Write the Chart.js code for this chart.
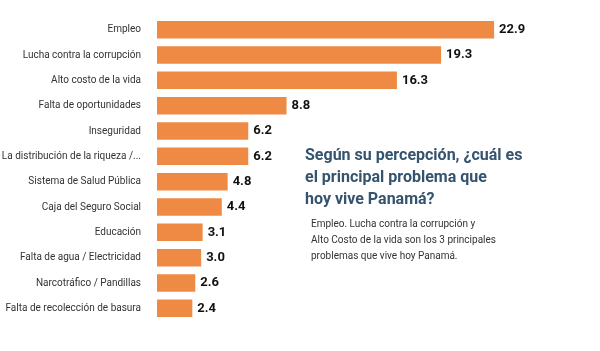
<!DOCTYPE html>
<html>
<head>
<meta charset="utf-8">
<script src="https://cdn.jsdelivr.net/npm/chart.js@4"></script>
<style>
  html, body { margin: 0; padding: 0; background: #fff; }
  #wrap { position: relative; width: 600px; height: 351px; }
  #c { position: absolute; left: 0; top: 0; }
  #title { position: absolute; left: 305px; top: 144px; font-family: Roboto, sans-serif; font-weight: bold; font-size: 16px; line-height: 22px; color: #34536f; }
  #note { position: absolute; left: 311px; top: 216px; font-family: Roboto, sans-serif; font-size: 10px; line-height: 16px; color: #333; }
</style>
</head>
<body>
<div id="wrap">
  <canvas id="c" width="600" height="351"></canvas>
  <div id="title">Según su percepción, ¿cuál es<br>el principal problema que<br>hoy vive Panamá?</div>
  <div id="note">Empleo. Lucha contra la corrupción y<br>Alto Costo de la vida son los 3 principales<br>problemas que vive hoy Panamá.</div>
</div>
<script>
const categories = [
  "Empleo",
  "Lucha contra la corrupción",
  "Alto costo de la vida",
  "Falta de oportunidades",
  "Inseguridad",
  "La distribución de la riqueza /...",
  "Sistema de Salud Pública",
  "Caja del Seguro Social",
  "Educación",
  "Falta de agua / Electricidad",
  "Narcotráfico / Pandillas",
  "Falta de recolección de basura"
];
const values = [22.9, 19.3, 16.3, 8.8, 6.2, 6.2, 4.8, 4.4, 3.1, 3.0, 2.6, 2.4];

const valueLabels = {
  id: 'valueLabels',
  afterDatasetsDraw(chart) {
    const ctx = chart.ctx;
    const meta = chart.getDatasetMeta(0);
    ctx.save();
    ctx.font = 'bold 13px Roboto, sans-serif';
    ctx.fillStyle = '#111';
    ctx.textAlign = 'left';
    ctx.textBaseline = 'middle';
    meta.data.forEach((bar, i) => {
      ctx.fillText(values[i].toFixed(1), bar.x + 5, bar.y);
    });
    ctx.restore();
  }
};

new Chart(document.getElementById('c'), {
  type: 'bar',
  data: {
    labels: categories,
    datasets: [{
      data: values,
      backgroundColor: '#ef8a45',
      borderWidth: 0,
      categoryPercentage: 0.69,
      barPercentage: 1.0
    }]
  },
  options: {
    indexAxis: 'y',
    responsive: false,
    animation: false,
    layout: { padding: { top: 17, bottom: 30, left: 0, right: 75 } },
    plugins: { legend: { display: false }, tooltip: { enabled: false } },
    scales: {
      x: { display: false, min: 0, max: 25 },
      y: {
        grid: { display: false, drawBorder: false },
        border: { display: false },
        ticks: { color: '#333', font: { family: 'Roboto, sans-serif', size: 10 }, padding: 8 },
        afterFit(scale) { scale.width = 157; }
      }
    }
  },
  plugins: [valueLabels]
});
</script>
</body>
</html>
